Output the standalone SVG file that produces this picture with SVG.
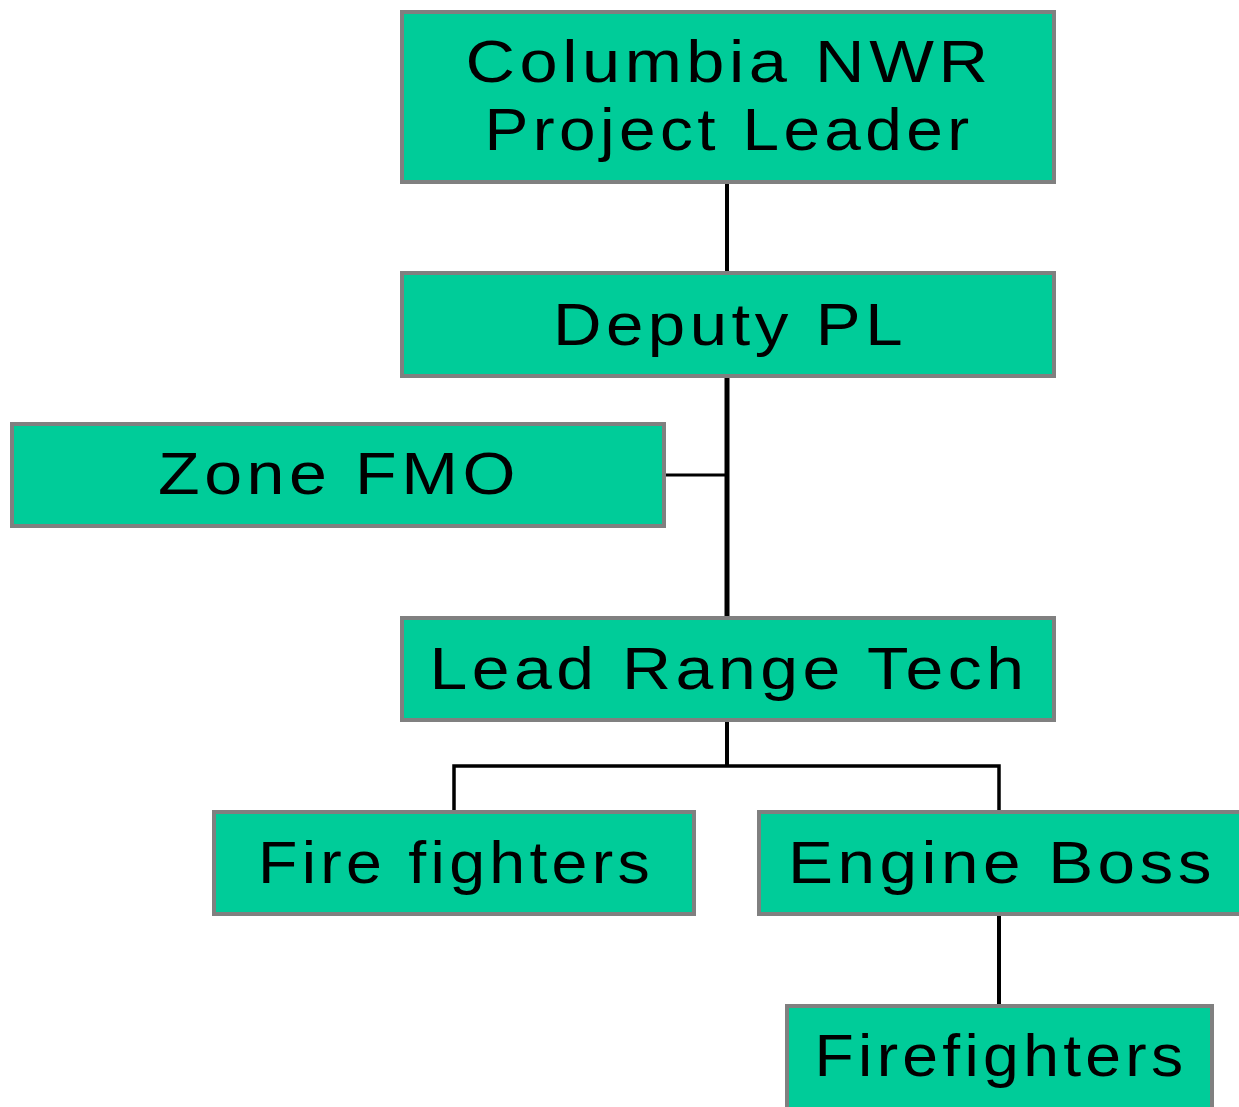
<svg xmlns="http://www.w3.org/2000/svg" width="1239" height="1107" viewBox="0 0 1239 1107">
  <style>
    .box { fill: #00CC99; stroke: #808080; stroke-width: 4; }
    .lbl { font-family: "Liberation Sans", Arial, sans-serif; font-size: 60px; letter-spacing: 4px; fill: #000; text-anchor: middle; }
    .wire { fill: none; stroke: #000; stroke-width: 4; }
  </style>
  <rect width="1239" height="1107" fill="#fff"/>

  <!-- connectors -->
  <g id="connectors">
    <path class="wire" d="M727 183 V272"/>
    <path class="wire" style="stroke-width:5" d="M727 377 V617"/>
    <path class="wire" style="stroke-width:3" d="M665 475 H727"/>
    <path class="wire" d="M727 721 V766"/>
    <path class="wire" style="stroke-width:3.5" d="M454 811 V766 H999 V811"/>
    <path class="wire" d="M999 915 V1005"/>
  </g>

  <g id="project-leader">
    <rect class="box" x="402" y="12" width="652" height="170"/>
    <text class="lbl" x="729" y="82" textLength="527" lengthAdjust="spacingAndGlyphs">Columbia NWR</text>
    <text class="lbl" x="729" y="150" textLength="489" lengthAdjust="spacingAndGlyphs">Project Leader</text>
  </g>

  <g id="deputy-pl">
    <rect class="box" x="402" y="273" width="652" height="103"/>
    <text class="lbl" x="730" y="345" textLength="354" lengthAdjust="spacingAndGlyphs">Deputy PL</text>
  </g>

  <g id="zone-fmo">
    <rect class="box" x="12" y="424" width="652" height="102"/>
    <text class="lbl" x="339" y="494" textLength="362" lengthAdjust="spacingAndGlyphs">Zone FMO</text>
  </g>

  <g id="lead-range-tech">
    <rect class="box" x="402" y="618" width="652" height="102"/>
    <text class="lbl" x="729" y="689" textLength="599" lengthAdjust="spacingAndGlyphs">Lead Range Tech</text>
  </g>

  <g id="fire-fighters">
    <rect class="box" x="214" y="812" width="480" height="102"/>
    <text class="lbl" x="456" y="883" textLength="396" lengthAdjust="spacingAndGlyphs">Fire fighters</text>
  </g>

  <g id="engine-boss">
    <rect class="box" x="759" y="812" width="482" height="102"/>
    <text class="lbl" x="1002" y="883" textLength="428" lengthAdjust="spacingAndGlyphs">Engine Boss</text>
  </g>

  <g id="firefighters">
    <rect class="box" x="787" y="1006" width="425" height="104"/>
    <text class="lbl" x="1001" y="1076" textLength="373" lengthAdjust="spacingAndGlyphs">Firefighters</text>
  </g>
</svg>
